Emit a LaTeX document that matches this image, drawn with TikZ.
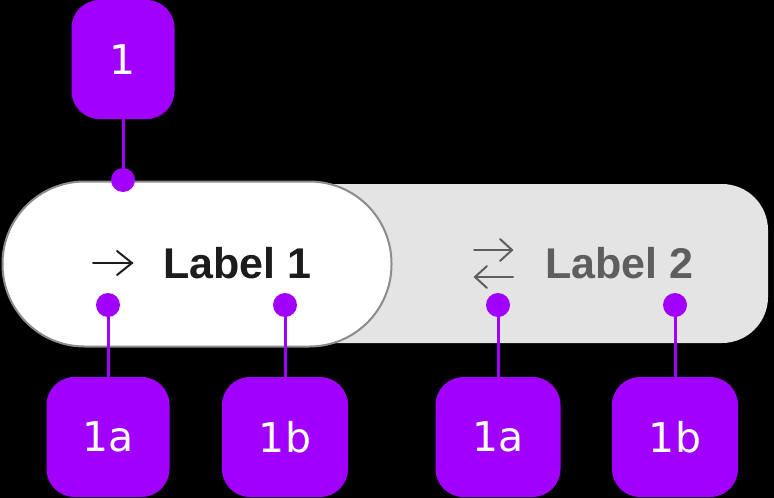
\documentclass[tikz,border=0pt]{standalone}
\usepackage{fontspec}
\setmainfont{Liberation Sans}
\newfontfamily\calloutfont{DejaVu Sans}
\definecolor{purp}{HTML}{A100FF}
\definecolor{trackgrey}{HTML}{E4E4E4}
\definecolor{pillborder}{HTML}{8C8C8C}
\definecolor{darktext}{HTML}{1C1C1C}
\definecolor{greytext}{HTML}{5E5E5E}
\tikzset{
  callout/.style={fill=purp, rounded corners=28pt, inner sep=0pt, text=white,
    font=\calloutfont\fontsize{41}{41}\selectfont, minimum height=120pt},
  dotnode/.style={circle, fill=purp, minimum size=24pt, inner sep=0pt},
  conn/.style={draw=purp, line width=3pt},
  tracknode/.style={fill=trackgrey, rounded corners=46pt, minimum width=568pt, minimum height=159pt, inner sep=0pt},
  pillnode/.style={fill=white, draw=pillborder, line width=2pt, rounded corners=82pt, minimum width=389pt, minimum height=165pt, inner sep=0pt},
  labeltext/.style={font=\bfseries\fontsize{43}{43}\selectfont, inner sep=0pt, anchor=base west},
  iconline/.style={line width=2pt, line cap=round, line join=miter}
}
\begin{document}
\begin{tikzpicture}[x=1pt,y=-1pt]
\fill[black] (0,0) rectangle (774,498);
\useasboundingbox (0,0) rectangle (774,498);
% segmented control
\node[tracknode] (track) at (484,263.5) {};
\node[pillnode] (pill) at (197,264) {};
% icons
\draw[iconline, darktext] (93,263) -- (132,263);
\draw[iconline, darktext] (117,251) -- (132,263) -- (117,275);
\draw[iconline, greytext] (474,250) -- (512,250);
\draw[iconline, greytext] (500,239) -- (512,250) -- (500,261);
\draw[iconline, greytext] (475,277) -- (513,277);
\draw[iconline, greytext] (487,266) -- (475,277) -- (487,288);
% labels
\node[labeltext, text=darktext] (l1) at (163,278) {Label 1};
\node[labeltext, text=greytext] (l2) at (545,278) {Label 2};
% callouts
\node[callout, minimum width=103pt, minimum height=119pt] (c1) at (123,59.5) {1};
\node[callout, minimum width=123pt] (c1a) at (108,437) {1a};
\node[callout, minimum width=126pt] (c1b) at (285,437) {1b};
\node[callout, minimum width=125pt] (c2a) at (498,437) {1a};
\node[callout, minimum width=126pt] (c2b) at (675,437) {1b};
% anchor points
\coordinate (p1) at (123,180);
\coordinate (p1a) at (108,305);
\coordinate (p1b) at (285,305);
\coordinate (p2a) at (498,305);
\coordinate (p2b) at (675,305);
% connectors
\draw[conn] (c1.south) -- (p1);
\draw[conn] (c1a.north) -- (p1a);
\draw[conn] (c1b.north) -- (p1b);
\draw[conn] (c2a.north) -- (p2a);
\draw[conn] (c2b.north) -- (p2b);
% dots
\node[dotnode] (d1) at (p1) {};
\node[dotnode] (d1a) at (p1a) {};
\node[dotnode] (d1b) at (p1b) {};
\node[dotnode] (d2a) at (p2a) {};
\node[dotnode] (d2b) at (p2b) {};
\end{tikzpicture}
\end{document}
